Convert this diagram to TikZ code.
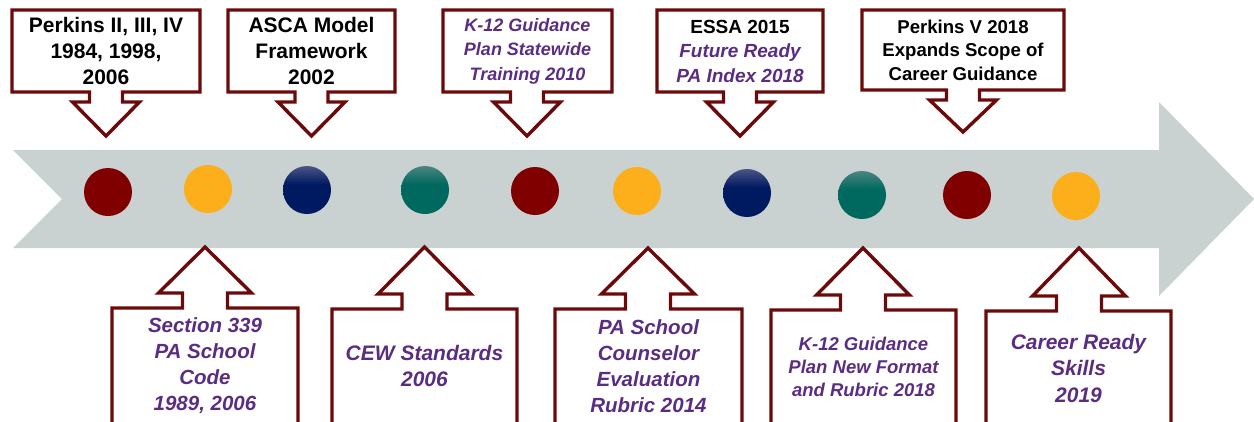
\documentclass[tikz,border=0pt]{standalone}
\usepackage{fontspec}
\setmainfont{Liberation Sans}

\definecolor{bandgray}{HTML}{C9D1D1}
\definecolor{maroonline}{HTML}{6B0A0A}
\definecolor{dotred}{HTML}{800000}
\definecolor{dotgold}{HTML}{FCAF1A}
\definecolor{dotnavy}{HTML}{001A62}
\definecolor{dotnavytop}{HTML}{4A5585}
\definecolor{dotteal}{HTML}{00695F}
\definecolor{dottealtop}{HTML}{4A8580}
\definecolor{labelpurple}{HTML}{5A2D82}

% glossy dots: solid colour with a short highlight near the top
\pgfdeclareverticalshading{navyball}{100bp}{color(0bp)=(dotnavy); color(25bp)=(dotnavy);
  color(56bp)=(dotnavy); color(75bp)=(dotnavytop); color(100bp)=(dotnavytop)}
\pgfdeclareverticalshading{tealball}{100bp}{color(0bp)=(dotteal); color(25bp)=(dotteal);
  color(56bp)=(dotteal); color(75bp)=(dottealtop); color(100bp)=(dottealtop)}

% Callout pointing down onto the band: box from #1 to #2, tip at x=#3,
% box top #4, box bottom #5, tip at y=#6
\newcommand\DownCallout[6]{%
  \draw[callout] (#1,#4) -- (#2,#4) -- (#2,#5) -- ({#3+16.5},#5)
    -- ({#3+16.5},{#5+10}) -- ({#3+33.5},{#5+10}) -- (#3,#6)
    -- ({#3-33.5},{#5+10}) -- ({#3-16.5},{#5+10}) -- ({#3-16.5},#5)
    -- (#1,#5) -- cycle;}
% Callout pointing up at the band: box from #1 to #2, tip at x=#3,
% box top #4, tip at y=#5 (box runs off the lower edge)
\newcommand\UpCallout[5]{%
  \draw[callout] (#1,440) -- (#1,#4) -- ({#3-22.5},#4)
    -- ({#3-22.5},{#4-15}) -- ({#3-46.5},{#4-15}) -- (#3,#5)
    -- ({#3+46.5},{#4-15}) -- ({#3+22.5},{#4-15}) -- ({#3+22.5},#4)
    -- (#2,#4) -- (#2,440) -- cycle;}

\begin{document}
\begin{tikzpicture}[x=1pt,y=-1pt,
  callout/.style={draw=maroonline,line width=3.4pt,line join=miter,fill=white},
  dot/.style={circle,minimum size=48pt,inner sep=0pt,draw=none},
  navydot/.style={dot,shading=navyball},
  tealdot/.style={dot,shading=tealball},
  lbl/.style={align=center,inner sep=0pt,font=\bfseries},
  plain/.style={lbl,text=black},
  accent/.style={lbl,text=labelpurple,font=\bfseries\itshape},
]
\useasboundingbox (0,0) rectangle (1254,421);
\clip (0,0) rectangle (1254,421);

% timeline band with notched tail and arrow head
\fill[bandgray] (13,150) -- (1159,150) -- (1159,102) -- (1254,199)
  -- (1159,296) -- (1159,248) -- (13,248) -- (62,199) -- cycle;

% milestone dots
\node[dot,fill=dotred]  (c1)  at (108,192) {};
\node[dot,fill=dotgold] (c2)  at (208,189) {};
\node[navydot] (c3) at (307,190) {};
\node[tealdot] (c4) at (425,190) {};
\node[dot,fill=dotred]  (c5)  at (535,191) {};
\node[dot,fill=dotgold] (c6)  at (637,191) {};
\node[navydot] (c7) at (747,193) {};
\node[tealdot] (c8) at (862,195) {};
\node[dot,fill=dotred]  (c9)  at (967,195) {};
\node[dot,fill=dotgold] (c10) at (1076,196) {};

% upper callouts
\DownCallout{12}{200}{106}{10}{92}{136}
\DownCallout{228}{395}{311.5}{10}{92}{136}
\DownCallout{443}{612}{527}{10}{92}{136}
\DownCallout{657}{823}{740}{10}{92}{136}
\DownCallout{862}{1064}{963}{10}{90}{132}

\node[plain,font=\bfseries\fontsize{21}{26}\selectfont] (t1) at (106,51)
  {Perkins II, III, IV\\1984, 1998,\\2006};
\node[plain,font=\bfseries\fontsize{21}{26}\selectfont] (t2) at (311.5,51)
  {ASCA Model\\Framework\\2002};
\node[accent,font=\bfseries\itshape\fontsize{18}{24.5}\selectfont] (t3) at (527.5,51)
  {K-12 Guidance\\Plan Statewide\\Training 2010};
\node[lbl,font=\bfseries\fontsize{19}{24.5}\selectfont] (t4) at (740,51)
  {ESSA 2015\\\color{labelpurple}\itshape Future Ready\\\color{labelpurple}\itshape PA Index 2018};
\node[plain,font=\bfseries\fontsize{18.6}{23.5}\selectfont] (t5) at (963,50)
  {Perkins V 2018\\Expands Scope of\\Career Guidance};

% lower callouts
\UpCallout{112}{298}{205}{308}{247}
\UpCallout{332}{517}{424.5}{309}{247}
\UpCallout{555}{742}{648}{309}{248}
\UpCallout{771}{956}{863}{310}{248}
\UpCallout{986}{1171}{1079}{311}{248}

\node[accent,font=\bfseries\itshape\fontsize{20.5}{26}\selectfont] (t6) at (205,366)
  {Section 339\\PA School\\Code\\1989, 2006};
\node[accent,font=\bfseries\itshape\fontsize{21}{26}\selectfont] (t7) at (424.5,366)
  {CEW Standards\\2006};
\node[accent,font=\bfseries\itshape\fontsize{20.5}{26}\selectfont] (t8) at (648.5,366)
  {PA School\\Counselor\\Evaluation\\Rubric 2014};
\node[accent,font=\bfseries\itshape\fontsize{18.5}{23}\selectfont] (t9) at (863.5,367)
  {K-12 Guidance\\Plan New Format\\and Rubric 2018};
\node[accent,font=\bfseries\itshape\fontsize{21}{26.5}\selectfont] (t10) at (1078.5,368)
  {Career Ready\\Skills\\2019};
\end{tikzpicture}
\end{document}
